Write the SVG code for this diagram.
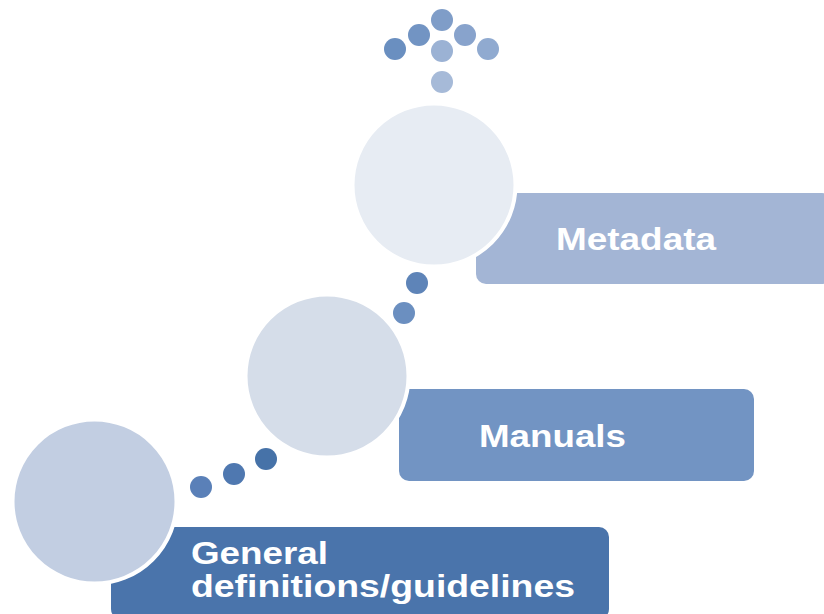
<svg xmlns="http://www.w3.org/2000/svg" width="824" height="614" viewBox="0 0 824 614">
<style>
.lbl{font-family:"Liberation Sans",Arial,sans-serif;font-weight:bold;font-size:32px;fill:#ffffff}
.ring{stroke:#ffffff;stroke-width:4}
</style>
<rect width="824" height="614" fill="#ffffff"/>
<g id="node-general">
<rect x="111" y="527" width="498" height="92" rx="10" fill="#4a74ab"/>
<circle class="ring" cx="94.5" cy="501.5" r="82" fill="#c2cee2"/>
<text class="lbl" x="191" y="564" textLength="137" lengthAdjust="spacingAndGlyphs">General</text>
<text class="lbl" x="191" y="597" textLength="384" lengthAdjust="spacingAndGlyphs">definitions/guidelines</text>
</g>
<g id="node-manuals">
<rect x="399" y="389" width="355" height="92" rx="10" fill="#7294c3"/>
<circle class="ring" cx="327" cy="376" r="81.5" fill="#d5dde9"/>
<text class="lbl" x="479" y="447" textLength="147" lengthAdjust="spacingAndGlyphs">Manuals</text>
</g>
<g id="node-metadata">
<rect x="476" y="193" width="356" height="91" rx="10" fill="#a3b5d5"/>
<circle class="ring" cx="434" cy="185" r="81.5" fill="#e7ecf3"/>
<text class="lbl" x="556" y="250" textLength="160" lengthAdjust="spacingAndGlyphs">Metadata</text>
</g>
<g id="connectors">
<circle cx="201" cy="487" r="11" fill="#5a80b8"/>
<circle cx="234" cy="474" r="11" fill="#4f78b0"/>
<circle cx="266" cy="459" r="11" fill="#4672a8"/>
<circle cx="404" cy="313" r="11" fill="#6b8fc0"/>
<circle cx="417" cy="283" r="11" fill="#5e84b8"/>
<circle cx="395" cy="49" r="11" fill="#6a8fc0"/>
<circle cx="419" cy="35" r="11" fill="#7294c3"/>
<circle cx="442" cy="20" r="11" fill="#7f9dc8"/>
<circle cx="465" cy="35" r="11" fill="#88a3cc"/>
<circle cx="488" cy="49" r="11" fill="#90aad0"/>
<circle cx="442" cy="51" r="11" fill="#9bb2d4"/>
<circle cx="442" cy="82" r="11" fill="#a6bad8"/>
</g>
</svg>
